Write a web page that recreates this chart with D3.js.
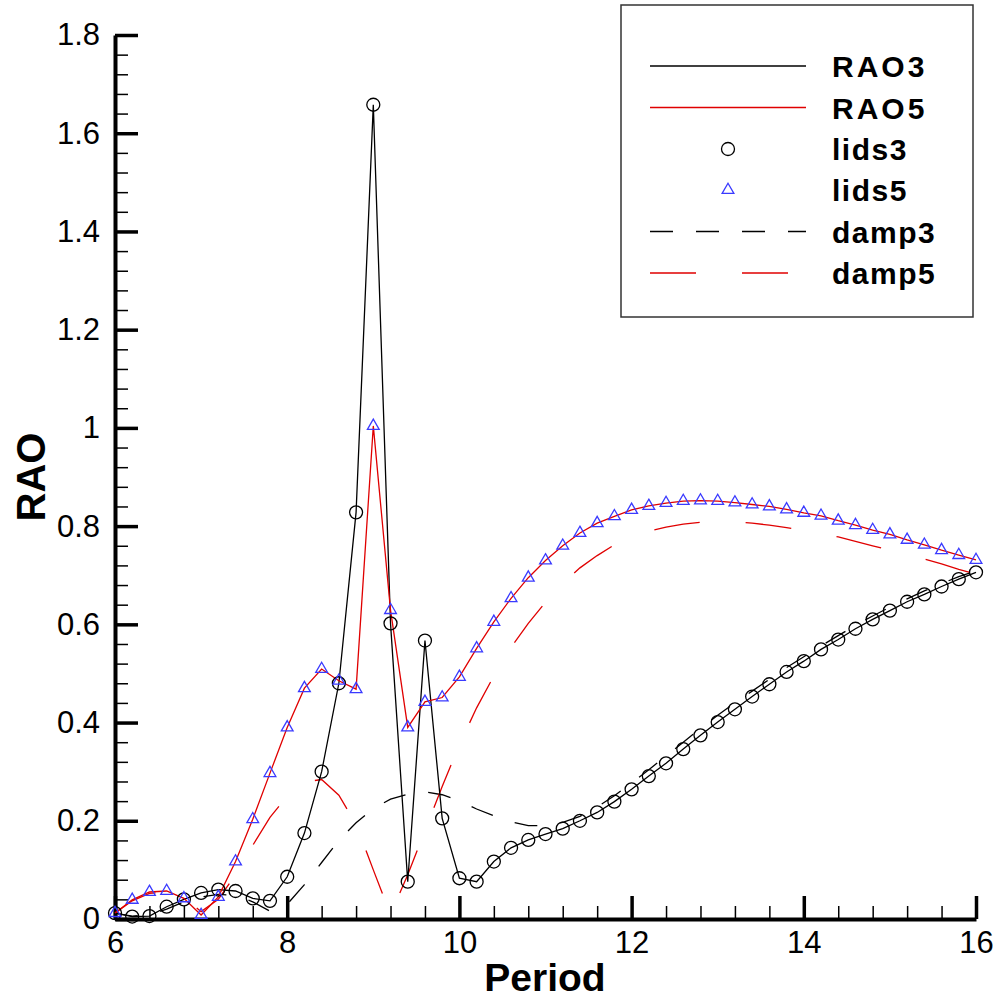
<!DOCTYPE html>
<html>
<head>
<meta charset="utf-8">
<script src="https://cdn.jsdelivr.net/npm/d3@7/dist/d3.min.js"></script>
<style>
html,body{margin:0;padding:0;background:#fff;}
svg{display:block;font-family:"Liberation Sans",Arial,sans-serif;}
</style>
</head>
<body>
<script>
const period = [6.0,6.2,6.4,6.6,6.8,7.0,7.2,7.4,7.6,7.8,8.0,8.2,8.4,8.6,8.8,9.0,9.2,9.4,9.6,9.8,10.0,10.2,10.4,10.6,10.8,11.0,11.2,11.4,11.6,11.8,12.0,12.2,12.4,12.6,12.8,13.0,13.2,13.4,13.6,13.8,14.0,14.2,14.4,14.6,14.8,15.0,15.2,15.4,15.6,15.8,16.0];

const rao3 = [0.012,0.005,0.006,0.025,0.040,0.053,0.060,0.057,0.042,0.037,0.086,0.175,0.300,0.480,0.828,1.658,0.602,0.076,0.567,0.205,0.083,0.076,0.117,0.145,0.161,0.173,0.184,0.200,0.217,0.239,0.264,0.291,0.317,0.346,0.374,0.401,0.427,0.453,0.478,0.503,0.525,0.549,0.569,0.591,0.610,0.628,0.646,0.661,0.677,0.692,0.706];

const rao5 = [0.012,0.039,0.055,0.057,0.042,0.008,0.045,0.117,0.203,0.297,0.390,0.470,0.509,0.485,0.468,1.004,0.629,0.390,0.442,0.451,0.493,0.551,0.605,0.653,0.695,0.730,0.760,0.786,0.806,0.820,0.833,0.841,0.847,0.851,0.852,0.851,0.848,0.844,0.840,0.834,0.827,0.821,0.811,0.802,0.792,0.783,0.772,0.762,0.751,0.741,0.731];

const lids3 = [0.012,0.005,0.006,0.025,0.040,0.053,0.060,0.057,0.042,0.037,0.086,0.175,0.300,0.480,0.828,1.658,0.602,0.076,0.567,0.205,0.083,0.076,0.117,0.145,0.161,0.173,0.184,0.200,0.217,0.239,0.264,0.291,0.317,0.346,0.374,0.401,0.427,0.453,0.478,0.503,0.525,0.549,0.569,0.591,0.610,0.628,0.646,0.661,0.677,0.692,0.706];

const lids5 = [0.012,0.039,0.055,0.057,0.042,0.008,0.045,0.117,0.203,0.297,0.390,0.470,0.509,0.485,0.468,1.004,0.629,0.390,0.442,0.451,0.493,0.551,0.605,0.653,0.695,0.730,0.760,0.786,0.806,0.820,0.833,0.841,0.847,0.851,0.852,0.851,0.848,0.844,0.840,0.834,0.827,0.821,0.811,0.802,0.792,0.783,0.772,0.762,0.751,0.741,0.731];

const damp3 = [0.012,0.006,0.008,0.020,0.035,0.045,0.050,0.048,0.035,0.016,0.030,0.070,0.115,0.160,0.196,0.225,0.244,0.254,0.259,0.253,0.241,0.224,0.210,0.198,0.190,0.190,0.197,0.209,0.228,0.251,0.277,0.304,0.332,0.360,0.388,0.415,0.440,0.464,0.488,0.512,0.534,0.556,0.577,0.598,0.617,0.635,0.652,0.668,0.683,0.697,0.709];

const damp5 = [0.012,0.037,0.052,0.055,0.045,0.015,0.040,0.090,0.150,0.207,0.250,0.279,0.284,0.252,0.193,0.100,0.009,0.090,0.180,0.270,0.355,0.430,0.495,0.553,0.602,0.645,0.683,0.715,0.740,0.762,0.778,0.790,0.798,0.804,0.808,0.810,0.809,0.806,0.802,0.797,0.791,0.785,0.778,0.769,0.760,0.751,0.742,0.733,0.723,0.712,0.702];

const xMajorTicks = [6,8,10,12,14,16];
const xMinorTicks = [6.4,6.8,7.2,7.6,8.4,8.8,9.2,9.6,10.4,10.8,11.2,11.6,12.4,12.8,13.2,13.6,14.4,14.8,15.2,15.6];
const yMajorTicks = [0,0.2,0.4,0.6,0.8,1.0,1.2,1.4,1.6,1.8];
const yTickLabels = ["0","0.2","0.4","0.6","0.8","1","1.2","1.4","1.6","1.8"];
const yMinorTicks = [0.04,0.08,0.12,0.16,0.24,0.28,0.32,0.36,0.44,0.48,0.52,0.56,0.64,0.68,0.72,0.76,0.84,0.88,0.92,0.96,1.04,1.08,1.12,1.16,1.24,1.28,1.32,1.36,1.44,1.48,1.52,1.56,1.64,1.68,1.72,1.76];

const legendNames = ["RAO3","RAO5","lids3","lids5","damp3","damp5"];

const W = 1000, H = 1000;
const svg = d3.select("body").append("svg").attr("width", W).attr("height", H);

const x = d3.scaleLinear().domain([6,16]).range([115,976]);
const y = d3.scaleLinear().domain([0,1.8]).range([919,35]);

// Axes
const gx = svg.append("g").attr("transform","translate(0,919)");
gx.call(d3.axisBottom(x).tickValues(xMinorTicks).tickSize(-13).tickSizeOuter(0).tickFormat(""));
gx.selectAll(".domain").remove();
gx.selectAll(".tick line").attr("stroke","#000").attr("stroke-width",1.5);

const gx2 = svg.append("g").attr("transform","translate(0,919)");
gx2.call(d3.axisBottom(x).tickValues(xMajorTicks).tickSize(-23).tickSizeOuter(0).tickPadding(12).tickFormat(d3.format("d")));
gx2.select(".domain").attr("stroke","#000").attr("stroke-width",4);
gx2.selectAll(".tick line").attr("stroke","#000").attr("stroke-width",3.5);
gx2.selectAll(".tick text").attr("font-size",31).attr("fill","#000").attr("font-family","Liberation Sans, Arial, sans-serif");

const gy = svg.append("g").attr("transform","translate(115,0)");
gy.call(d3.axisLeft(y).tickValues(yMinorTicks).tickSize(-13).tickSizeOuter(0).tickFormat(""));
gy.selectAll(".domain").remove();
gy.selectAll(".tick line").attr("stroke","#000").attr("stroke-width",1.5);

const gy2 = svg.append("g").attr("transform","translate(115,0)");
gy2.call(d3.axisLeft(y).tickValues(yMajorTicks).tickSize(-23).tickSizeOuter(0).tickPadding(15).tickFormat((d,i)=>yTickLabels[i]));
gy2.select(".domain").attr("stroke","#000").attr("stroke-width",4);
gy2.selectAll(".tick line").attr("stroke","#000").attr("stroke-width",3.5);
gy2.selectAll(".tick text").attr("font-size",31).attr("fill","#000").attr("font-family","Liberation Sans, Arial, sans-serif");

// Axis titles
svg.append("text").attr("x",545).attr("y",991).attr("text-anchor","middle")
  .attr("font-size",39).attr("font-weight","bold").text("Period");
svg.append("text").attr("transform","translate(45,477) rotate(-90)").attr("text-anchor","middle")
  .attr("font-size",40).attr("font-weight","bold").text("RAO");

// Series
const RED = "#e00000", BLUE = "#3a3aff";
function lineOf(vals){
  return d3.line().x((d,i)=>x(period[i])).y(d=>y(d))(vals);
}
svg.append("path").attr("d",lineOf(damp3)).attr("fill","none").attr("stroke","#000").attr("stroke-width",1.3).attr("stroke-dasharray","23,23");
svg.append("path").attr("d",lineOf(damp5)).attr("fill","none").attr("stroke",RED).attr("stroke-width",1.3).attr("stroke-dasharray","46,46");
svg.append("path").attr("d",lineOf(rao3)).attr("fill","none").attr("stroke","#000").attr("stroke-width",1.3);
svg.append("path").attr("d",lineOf(rao5)).attr("fill","none").attr("stroke",RED).attr("stroke-width",1.3);

const circ = d3.symbol().type(d3.symbolCircle).size(Math.PI*6.5*6.5);
const tri = d3.symbol().type(d3.symbolTriangle).size(60);

svg.append("g").selectAll("path").data(lids3).join("path")
  .attr("transform",(d,i)=>`translate(${x(period[i])},${y(d)})`)
  .attr("d",circ).attr("fill","none").attr("stroke","#000").attr("stroke-width",1.3);
svg.append("g").selectAll("path").data(lids5).join("path")
  .attr("transform",(d,i)=>`translate(${x(period[i])},${y(d)})`)
  .attr("d",tri).attr("fill","none").attr("stroke",BLUE).attr("stroke-width",1.3);

// Legend
const lg = svg.append("g");
lg.append("rect").attr("x",621).attr("y",5).attr("width",352).attr("height",312)
  .attr("fill","#fff").attr("stroke","#333").attr("stroke-width",1.5);
const rowY = [66,107.5,149,190,231.5,273];
const styles = [
  {type:"line",color:"#000",dash:null},
  {type:"line",color:RED,dash:null},
  {type:"circle"},
  {type:"tri"},
  {type:"line",color:"#000",dash:"23,23"},
  {type:"line",color:RED,dash:"46,46"}
];
legendNames.forEach((name,i)=>{
  const s = styles[i], yy = rowY[i];
  if (s.type==="line"){
    const l = lg.append("line").attr("x1",650).attr("x2",806).attr("y1",yy).attr("y2",yy)
      .attr("stroke",s.color).attr("stroke-width",1.3);
    if (s.dash) l.attr("stroke-dasharray",s.dash);
  } else if (s.type==="circle"){
    lg.append("path").attr("transform",`translate(728,${yy})`).attr("d",circ)
      .attr("fill","none").attr("stroke","#000").attr("stroke-width",1.3);
  } else {
    lg.append("path").attr("transform",`translate(728,${yy})`).attr("d",tri)
      .attr("fill","none").attr("stroke",BLUE).attr("stroke-width",1.3);
  }
  lg.append("text").attr("x",832).attr("y",yy+11).attr("font-size",30).attr("font-weight","bold")
    .attr("letter-spacing", i<2 ? 3 : 1.5).text(name);
});
</script>
</body>
</html>
